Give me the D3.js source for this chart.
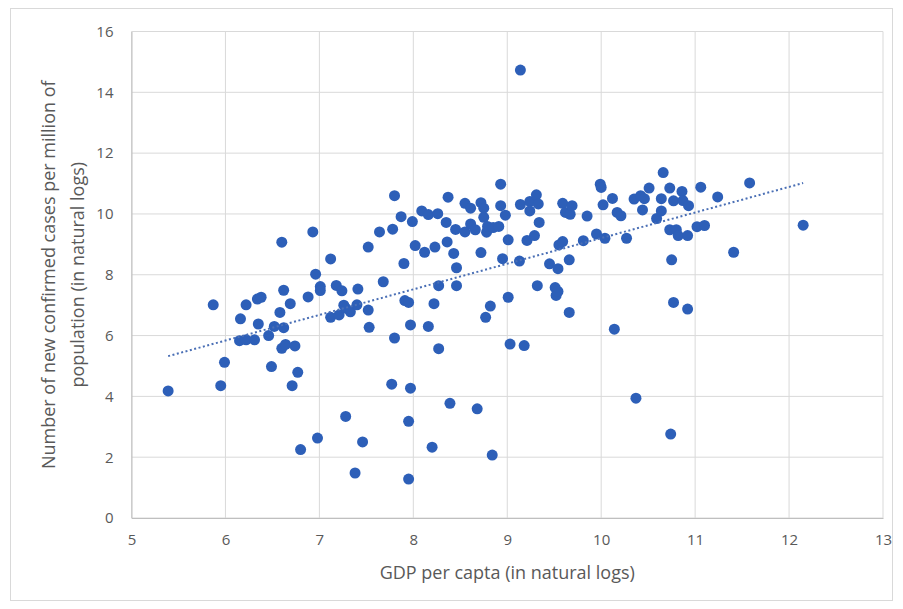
<!DOCTYPE html>
<html>
<head>
<meta charset="utf-8">
<script src="https://cdnjs.cloudflare.com/ajax/libs/d3/7.8.5/d3.min.js"></script>
<style>
    body { margin: 0; background: #fff; }
    text { font-family: "Open Sans", sans-serif; fill: #595959; }
</style>
</head>
<body>
<div id="chart"></div>
<script>
// GDP per capita (ln) and new confirmed cases per million (ln)
var gdp = [5.39, 5.87, 5.95, 5.99, 6.15, 6.16, 6.22, 6.22, 6.31, 6.34, 6.38, 6.35, 6.46, 6.49, 6.52, 6.58,
    6.60, 6.60, 6.62, 6.62, 6.64, 6.69, 6.71, 6.74, 6.77, 6.80, 6.88, 6.93, 6.96, 6.98, 7.01, 7.01,
    7.12, 7.12, 7.18, 7.21, 7.24, 7.26, 7.28, 7.28, 7.33, 7.38, 7.40, 7.41, 7.46, 7.52, 7.52, 7.53,
    7.64, 7.68, 7.77, 7.78, 7.80, 7.80, 7.87, 7.90, 7.91, 7.95, 7.95, 7.95, 7.97, 7.97, 7.99, 8.02,
    8.09, 8.12, 8.16, 8.16, 8.20, 8.22, 8.23, 8.26, 8.27, 8.27, 8.35, 8.36, 8.37, 8.39, 8.43, 8.45,
    8.46, 8.46, 8.55, 8.55, 8.61, 8.61, 8.66, 8.68, 8.72, 8.72, 8.75, 8.75, 8.77, 8.78, 8.79, 8.82,
    8.84, 8.85, 8.91, 8.93, 8.93, 8.95, 8.98, 9.01, 9.01, 9.03, 9.13, 9.14, 9.14, 9.18, 9.21, 9.24,
    9.24, 9.29, 9.31, 9.32, 9.33, 9.34, 9.45, 9.51, 9.52, 9.54, 9.54, 9.55, 9.59, 9.59, 9.62, 9.66,
    9.66, 9.67, 9.69, 9.81, 9.85, 9.95, 9.99, 10.00, 10.02, 10.04, 10.12, 10.14, 10.17, 10.21, 10.27, 10.35,
    10.37, 10.42, 10.44, 10.46, 10.51, 10.59, 10.64, 10.64, 10.66, 10.73, 10.73, 10.74, 10.75, 10.77, 10.77, 10.80,
    10.82, 10.86, 10.87, 10.92, 10.92, 10.93, 11.02, 11.06, 11.10, 11.24, 11.41, 11.58, 12.15];
var cases = [4.18, 7.01, 4.35, 5.12, 5.83, 6.55, 5.86, 7.01, 5.86, 7.20, 7.26, 6.38, 6.00, 4.98, 6.30, 6.76,
    9.07, 5.58, 7.49, 6.26, 5.71, 7.05, 4.35, 5.66, 4.79, 2.25, 7.27, 9.41, 8.02, 2.63, 7.61, 7.48,
    8.52, 6.60, 7.65, 6.68, 7.47, 7.00, 6.90, 3.34, 6.78, 1.48, 7.01, 7.53, 2.50, 8.91, 6.84, 6.27,
    9.41, 7.77, 4.40, 9.50, 10.60, 5.92, 9.91, 8.37, 7.15, 7.09, 3.18, 1.28, 6.35, 4.27, 9.75, 8.96,
    10.10, 8.74, 9.98, 6.30, 2.33, 7.05, 8.91, 10.01, 7.64, 5.57, 9.72, 9.08, 10.55, 3.77, 8.70, 9.49,
    8.23, 7.64, 10.35, 9.41, 10.19, 9.67, 9.48, 3.59, 10.37, 8.73, 10.19, 9.89, 6.60, 9.40, 9.59, 6.97,
    2.07, 9.55, 9.59, 10.98, 10.27, 8.53, 9.96, 9.15, 7.26, 5.72, 8.45, 14.73, 10.31, 5.67, 9.13, 10.41,
    10.10, 9.29, 10.63, 7.64, 10.33, 9.72, 8.36, 7.58, 7.32, 8.20, 7.45, 8.98, 10.35, 9.09, 10.05, 8.49,
    6.76, 9.99, 10.27, 9.12, 9.93, 9.34, 10.98, 10.87, 10.30, 9.20, 10.51, 6.21, 10.05, 9.94, 9.20, 10.49,
    3.94, 10.60, 10.13, 10.50, 10.85, 9.85, 10.50, 10.10, 11.36, 10.85, 9.48, 2.76, 8.49, 10.43, 7.09, 9.48,
    9.29, 10.74, 10.44, 9.29, 6.87, 10.27, 9.58, 10.88, 9.62, 10.56, 8.74, 11.02, 9.63];
var xTicks = [5, 6, 7, 8, 9, 10, 11, 12, 13];
var yTicks = [0, 2, 4, 6, 8, 10, 12, 14, 16];

var svgWidth = 903;
var svgHeight = 609;
var margin = { top: 31.5, left: 131.5, right: 20, bottom: 91 };
var width = svgWidth - margin.left - margin.right;
var height = svgHeight - margin.top - margin.bottom;

var root = d3.select("#chart")
    .append("svg")
    .attr("width", svgWidth)
    .attr("height", svgHeight);

// chart frame
root.append("rect")
    .attr("x", 10.5).attr("y", 8.5)
    .attr("width", 882).attr("height", 592)
    .attr("fill", "none")
    .attr("stroke", "#d9d9d9");

var svg = root.append("g")
    .attr("transform", "translate(" + margin.left + "," + margin.top + ")");

var x = d3.scaleLinear().domain([5, 13]).range([0, width]);
var y = d3.scaleLinear().domain([0, 16]).range([height, 0]);

// grid
svg.append("g")
    .selectAll("line.vg")
    .data(xTicks)
    .join("line")
    .attr("x1", d => x(d)).attr("x2", d => x(d))
    .attr("y1", 0).attr("y2", height)
    .attr("stroke", "#d9d9d9");
svg.append("g")
    .selectAll("line.hg")
    .data(yTicks)
    .join("line")
    .attr("x1", 0).attr("x2", width)
    .attr("y1", d => y(d)).attr("y2", d => y(d))
    .attr("stroke", "#d9d9d9");

// axes
var xAxis = d3.axisBottom(x).tickValues(xTicks).tickSize(0).tickPadding(16);
var yAxis = d3.axisLeft(y).tickValues(yTicks).tickSize(0).tickPadding(18);

svg.append("g")
    .attr("class", "x axis")
    .attr("transform", "translate(0," + height + ")")
    .call(xAxis)
    .call(g => g.select(".domain").attr("stroke", "#bfbfbf"))
    .selectAll("text")
    .style("font-size", "15px")
    .style("fill", "#595959");

svg.append("g")
    .attr("class", "y axis")
    .call(yAxis)
    .call(g => g.select(".domain").attr("stroke", "#bfbfbf"))
    .selectAll("text")
    .style("font-size", "15px")
    .style("fill", "#595959");

// titles
svg.append("text")
    .attr("x", width / 2)
    .attr("y", height + 61)
    .attr("text-anchor", "middle")
    .style("font-size", "18px")
    .text("GDP per capta (in natural logs)");

var yTitle = svg.append("text")
    .attr("transform", "translate(" + (-77) + "," + (height / 2) + ") rotate(-90)")
    .attr("text-anchor", "middle")
    .style("font-size", "18px");
yTitle.append("tspan").attr("x", 0).attr("y", 0)
    .text("Number of new confirmed cases per million of");
yTitle.append("tspan").attr("x", 0).attr("y", 29)
    .text("population (in natural logs)");

// points
var list = gdp.map((g, i) => ({ gdp: g, cases: cases[i] }));

svg.append("g")
    .selectAll("circle")
    .data(list)
    .join("circle")
    .attr("cx", d => x(d.gdp))
    .attr("cy", d => y(d.cases))
    .attr("r", 5.5)
    .style("fill", "#2d5fb8");

// linear trend (least squares)
var mx = d3.mean(list, d => d.gdp);
var my = d3.mean(list, d => d.cases);
var slope = d3.sum(list, d => (d.gdp - mx) * (d.cases - my)) / d3.sum(list, d => (d.gdp - mx) * (d.gdp - mx));
var icpt = my - slope * mx;
var ext = d3.extent(gdp);
var trend = ext.map(v => ({ gdp: v, cases: icpt + slope * v }));

svg.append("path")
    .datum(trend)
    .attr("fill", "none")
    .attr("stroke", "#4a6fb5")
    .attr("stroke-width", 2)
    .attr("stroke-dasharray", "2,2.5")
    .attr("d", d3.line().x(d => x(d.gdp)).y(d => y(d.cases)));
</script>
</body>
</html>
